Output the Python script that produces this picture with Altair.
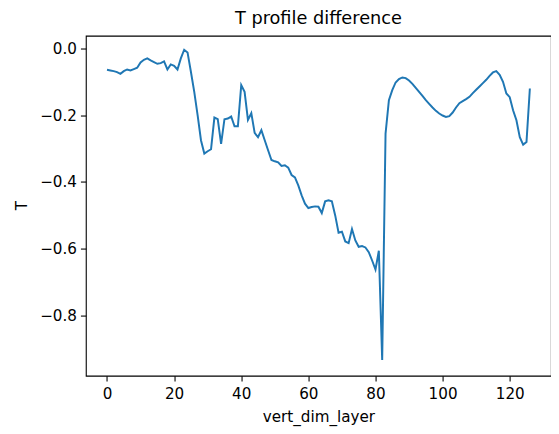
import altair as alt
import pandas as pd

layers = list(range(127))
t_diff = [
    -0.064, -0.066, -0.068, -0.071, -0.076, -0.068, -0.063, -0.066, -0.062, -0.058,
    -0.042, -0.034, -0.030, -0.036, -0.041, -0.046, -0.044, -0.039, -0.063, -0.048,
    -0.052, -0.063, -0.030, -0.004, -0.012, -0.070, -0.130, -0.200, -0.275, -0.315,
    -0.308, -0.302, -0.207, -0.212, -0.286, -0.212, -0.210, -0.204, -0.233, -0.233,
    -0.110, -0.130, -0.214, -0.194, -0.253, -0.266, -0.245, -0.275, -0.305, -0.334,
    -0.338, -0.341, -0.352, -0.350, -0.357, -0.379, -0.386, -0.410, -0.440, -0.465,
    -0.478, -0.475, -0.473, -0.474, -0.493, -0.458, -0.455, -0.458, -0.500, -0.552,
    -0.549, -0.578, -0.583, -0.541, -0.575, -0.594, -0.592, -0.596, -0.610, -0.635,
    -0.662, -0.606, -0.933, -0.255, -0.155, -0.125, -0.102, -0.092, -0.087, -0.089,
    -0.096, -0.106, -0.118, -0.130, -0.142, -0.155, -0.166, -0.177, -0.187, -0.195,
    -0.201, -0.205, -0.203, -0.192, -0.177, -0.164, -0.158, -0.152, -0.145, -0.134,
    -0.124, -0.114, -0.104, -0.094, -0.082, -0.072, -0.068, -0.079, -0.100, -0.135,
    -0.146, -0.185, -0.215, -0.266, -0.288, -0.280, -0.120,
]
x_ticks = [0, 20, 40, 60, 80, 100, 120]
y_ticks = [0.0, -0.2, -0.4, -0.6, -0.8]

df = pd.DataFrame({"vert_dim_layer": layers, "T": t_diff})

FONT = "DejaVu Sans"
common_axis = dict(
    grid=False,
    domain=False,
    tickColor="black",
    tickSize=5.5,
    tickWidth=1.1,
    labelColor="black",
    labelFont=FONT,
    labelFontSize=15.4,
    titleColor="black",
    titleFont=FONT,
    titleFontSize=15.4,
    titleFontWeight="normal",
)

chart = (
    alt.Chart(df)
    .mark_line(color="#1f77b4", strokeWidth=2, clip=True)
    .encode(
        x=alt.X(
            "vert_dim_layer:Q",
            scale=alt.Scale(domain=[-6.3, 132.3], nice=False, zero=False),
            axis=alt.Axis(values=x_ticks, format="d", labelPadding=6,
                          titlePadding=8, **common_axis),
        ),
        y=alt.Y(
            "T:Q",
            scale=alt.Scale(domain=[-0.98, 0.038], nice=False, zero=False),
            axis=alt.Axis(
                values=y_ticks,
                format=".1f",
                labelPadding=4,
                labelExpr="replace(datum.label, '-', '\u2212')",
                titleX=-65,
                titleY=172,
                titleAngle=270,
                titleAlign="center",
                titleBaseline="middle",
                **common_axis,
            ),
        ),
    )
    .properties(
        width=472,
        height=345,
        autosize="none",
        background="white",
        padding={"left": 79, "top": 25, "right": 0, "bottom": 54},
        title=alt.TitleParams(
            "T profile difference",
            font=FONT,
            fontSize=18,
            fontWeight="normal",
            color="black",
            anchor="middle",
            offset=8,
        ),
    )
    .configure_view(stroke="black", strokeWidth=1.1)
)

chart.save("out.html", embed_options={"renderer": "svg", "actions": False})
